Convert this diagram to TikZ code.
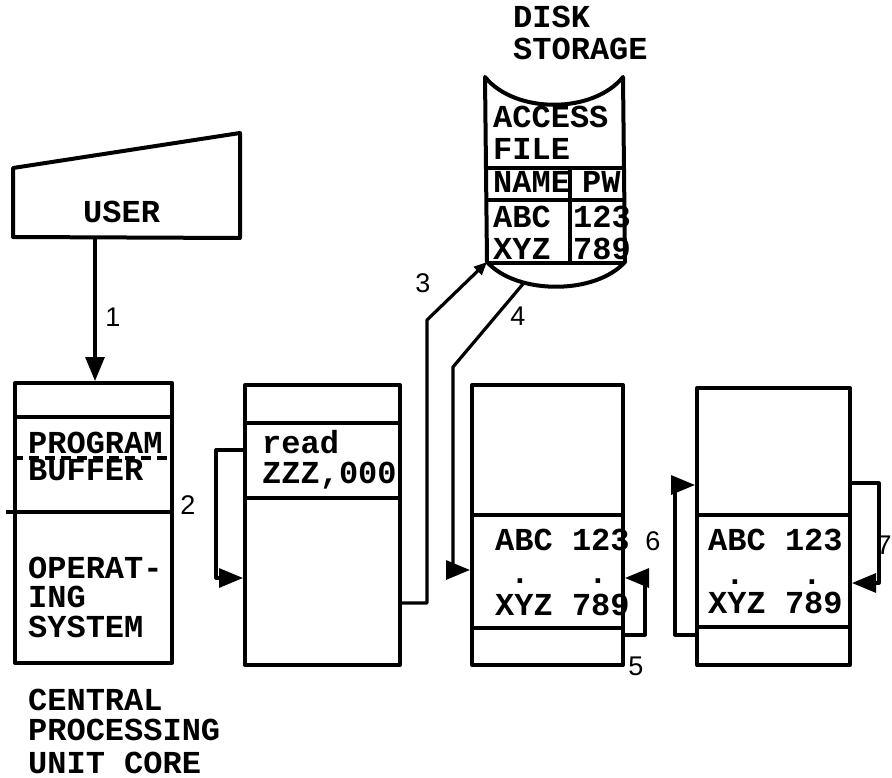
\documentclass[tikz,border=0pt]{standalone}
\usepackage{fontspec}
\usepackage{tikz}
\usetikzlibrary{arrows.meta, calc}
\newfontfamily\typefont{Liberation Mono}
\newfontfamily\labelfont{Liberation Sans}

\begin{document}
\begin{tikzpicture}[x=1pt, y=-1pt, line join=round,
    >={Triangle[length=24pt, width=19pt]},
    membox/.style={draw, line width=4pt, inner sep=0pt, minimum height=280pt},
    divider/.style={line width=3.6pt},
    flow/.style={line width=3.2pt},
    tt/.style={font=\typefont\bfseries\fontsize{32}{30}\selectfont, inner sep=0pt,
        text height=17pt, text depth=0pt, anchor=base west},
    steplabel/.style={font=\labelfont\fontsize{27}{27}\selectfont, inner sep=0pt}]
    \useasboundingbox (0,0) rectangle (892,778);
    % User terminal
    \draw[line width=4pt] (13,168) -- (240,133) -- (240,238) -- (13,237) -- cycle;
    \node[tt] (user) at (83,223) {USER};
    \coordinate (userfoot) at (95,237);
    % Core boxes
    \node[membox, minimum width=157pt] (core) at (93.5,523) {};
    \node[membox, minimum width=155pt] (prog) at (322.5,525) {};
    \node[membox, minimum width=151pt] (buf1) at (547.5,525) {};
    \node[membox, minimum width=153pt, minimum height=277pt] (buf2) at (773.5,526.5) {};
    % Core partitions
    \draw[divider] (core.west |- 0,417) -- (core.east |- 0,417);
    \draw[divider, dash pattern=on 10pt off 6pt] (core.west |- 0,458) -- (core.east |- 0,458);
    \draw[divider] ([xshift=-7pt]core.west |- 0,512) -- (core.east |- 0,512);
    \draw[divider] (prog.west |- 0,423) -- (prog.east |- 0,423);
    \draw[divider] (prog.west |- 0,498) -- (prog.east |- 0,498);
    \draw[divider] (buf1.west |- 0,515) -- (buf1.east |- 0,515);
    \draw[divider] (buf1.west |- 0,628) -- (buf1.east |- 0,628);
    \draw[divider] (buf2.west |- 0,515) -- (buf2.east |- 0,515);
    \draw[divider] (buf2.west |- 0,627) -- (buf2.east |- 0,627);
    % Core texts
    \node[tt] (program) at (28,453) {PROGRAM};
    \node[tt] (buffer) at (28,480) {BUFFER};
    \node[tt] (operat) at (28,578) {OPERAT-};
    \node[tt] (ing) at (28,607) {ING};
    \node[tt] (system) at (28,637) {SYSTEM};
    \node[tt] (central) at (28,710) {CENTRAL};
    \node[tt] (processing) at (28,740) {PROCESSING};
    \node[tt] (unitcore) at (28,773) {UNIT CORE};
    \node[tt] (read) at (262,453) {read};
    \node[tt] (zzz) at (262,483) {ZZZ,000};
    % Buffer contents
    \node[tt] (abcA) at (495,550) {ABC 123};
    \node[tt, anchor=base] (dotA1) at (520,583) {.};
    \node[tt, anchor=base] (dotA2) at (598,583) {.};
    \node[tt] (xyzA) at (495,615) {XYZ 789};
    \node[tt] (abcB) at (708,550) {ABC 123};
    \node[tt, anchor=base] (dotB1) at (735,584) {.};
    \node[tt, anchor=base] (dotB2) at (812,584) {.};
    \node[tt] (xyzB) at (708,613) {XYZ 789};
    % Disk storage
    \node[tt] (disk) at (513,28) {DISK};
    \node[tt] (storage) at (513,60) {STORAGE};
    \coordinate (drumTL) at (485,77);
    \coordinate (drumTR) at (623,77);
    \coordinate (drumBR) at (625,262);
    \coordinate (drumBL) at (487,262);
    \coordinate (drumfoot) at (523,284);
    \draw[line width=4pt] (drumTL) .. controls (515,114) and (593,114) .. (drumTR)
        -- (drumBR) .. controls (595,295) and (517,295) .. (drumBL) -- cycle;
    \draw[divider] (485,168) -- (624,168);
    \draw[divider] (486,200) -- (624,200);
    \draw[divider] (487,263) -- (625,263);
    \draw[divider] (570,168) -- (570,263);
    \node[tt] (access) at (493,128) {ACCESS};
    \node[tt] (file) at (493,160) {FILE};
    \node[tt] (name) at (493,193) {NAME};
    \node[tt] (pw) at (582,193) {PW};
    \node[tt] (abcD) at (493,228) {ABC};
    \node[tt] (numD1) at (573,228) {123};
    \node[tt] (xyzD) at (493,260) {XYZ};
    \node[tt] (numD2) at (573,260) {789};
    % Steps
    \draw[flow, ->] (userfoot) -- (userfoot |- core.north);
    \draw[flow, ->] (prog.west |- 0,450) -- ++(-27,0) |- (prog.west |- 0,578);
    \draw[flow, -{Triangle[length=13pt, width=11pt]}] (prog.east |- 0,603) -- (427,603) -- (427,320) -- (drumBL);
    \draw[flow, ->] (drumfoot) -- (453,367) -- (453,570) -- (buf1.west |- 0,570);
    \draw[flow, ->] (buf1.east |- 0,635) -- ++(20,0) |- (buf1.east |- 0,578);
    \draw[flow, ->] (buf2.west |- 0,635) -- ++(-20,0) |- (buf2.west |- 0,485);
    \draw[flow, ->] (buf2.east |- 0,483) -- ++(27,0) |- (buf2.east |- 0,583);
    % Step labels
    \node[steplabel] (s1) at (113,317) {1};
    \node[steplabel] (s2) at (188,505) {2};
    \node[steplabel] (s3) at (423,283) {3};
    \node[steplabel] (s4) at (518,316) {4};
    \node[steplabel] (s5) at (636,666) {5};
    \node[steplabel] (s6) at (653,541) {6};
    \node[steplabel] (s7) at (884,545) {7};
\end{tikzpicture}
\end{document}
